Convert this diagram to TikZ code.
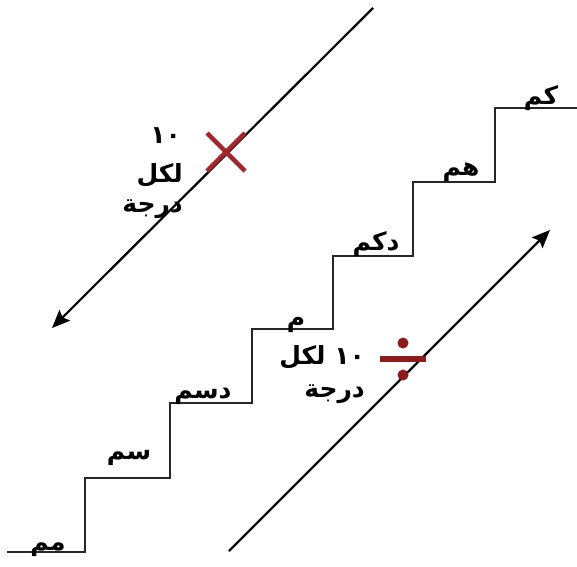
\documentclass[tikz,border=0pt]{standalone}
\usepackage{fontspec}
\usetikzlibrary{arrows.meta}
\TeXXeTstate=1
\newfontfamily\arabicfont[Script=Arabic]{DejaVu Sans}
\definecolor{markred}{HTML}{A3262A}
\definecolor{divred}{HTML}{8E1C1C}
\begin{document}
\begin{tikzpicture}[x=1pt,y=-1pt,
  stair/.style={line width=2.2pt,draw=black!85},
  arr/.style={line width=2.2pt,-{Stealth[length=18pt,width=15pt,inset=3pt]}},
  lbl/.style={font=\arabicfont\bfseries\fontsize{25}{28}\selectfont,inner sep=0pt,anchor=base},
]
\useasboundingbox (0,0) rectangle (577,566);
% staircase
\coordinate (s0) at (7,552);
\coordinate (s1) at (85,552);
\coordinate (s2) at (85,478);
\coordinate (s3) at (170,478);
\coordinate (s4) at (170,403);
\coordinate (s5) at (252,403);
\coordinate (s6) at (252,329);
\coordinate (s7) at (333,329);
\coordinate (s8) at (333,256);
\coordinate (s9) at (413,256);
\coordinate (s10) at (413,182);
\coordinate (s11) at (495,182);
\coordinate (s12) at (495,108);
\coordinate (s13) at (577,108);
\draw[stair] (s0) -- (s1) -- (s2) -- (s3) -- (s4) -- (s5) -- (s6) -- (s7) -- (s8) -- (s9) -- (s10) -- (s11) -- (s12) -- (s13);
% step labels
\node[lbl] (mm) at (48,550) {\beginR مم\endR};
\node[lbl] (sm) at (129,459) {\beginR سم\endR};
\node[lbl] (dsm) at (203,398) {\beginR دسم\endR};
\node[lbl] (m) at (296,326) {\beginR م\endR};
\node[lbl] (dkm) at (376,250) {\beginR دكم\endR};
\node[lbl] (hm) at (461,175) {\beginR هم\endR};
\node[lbl] (km) at (541,104) {\beginR كم\endR};
% arrow 1 (multiply)
\coordinate (a1s) at (373,8);
\coordinate (a1e) at (52,328);
\draw[arr] (a1s) -- (a1e);
\coordinate (xc) at (226,152);
\draw[markred,line width=4.5pt] ([shift={(-19,-19)}]xc) -- ([shift={(19,19)}]xc);
\draw[markred,line width=4.5pt] ([shift={(-19,19)}]xc) -- ([shift={(19,-19)}]xc);
\node[lbl,anchor=base east] (t1a) at (181,143) {\beginR\beginL ١٠\endL\endR};
\node[lbl,anchor=base east] (t1b) at (183,182) {\beginR لكل\endR};
\node[lbl,anchor=base east] (t1c) at (183,212) {\beginR درجة\endR};
% arrow 2 (divide)
\coordinate (a2s) at (229,551);
\coordinate (a2e) at (550,230);
\draw[arr] (a2s) -- (a2e);
\coordinate (dc) at (403,359);
\draw[divred,line width=5.5pt] ([shift={(-23,0)}]dc) -- ([shift={(23,0)}]dc);
\fill[divred] ([shift={(0,-16)}]dc) circle (5.5);
\fill[divred] ([shift={(0,16)}]dc) circle (5.5);
\node[lbl,anchor=base east] (t2a) at (365,364) {\beginR\beginL ١٠\endL{} لكل\endR};
\node[lbl,anchor=base east] (t2b) at (365,397) {\beginR درجة\endR};
\end{tikzpicture}
\end{document}
